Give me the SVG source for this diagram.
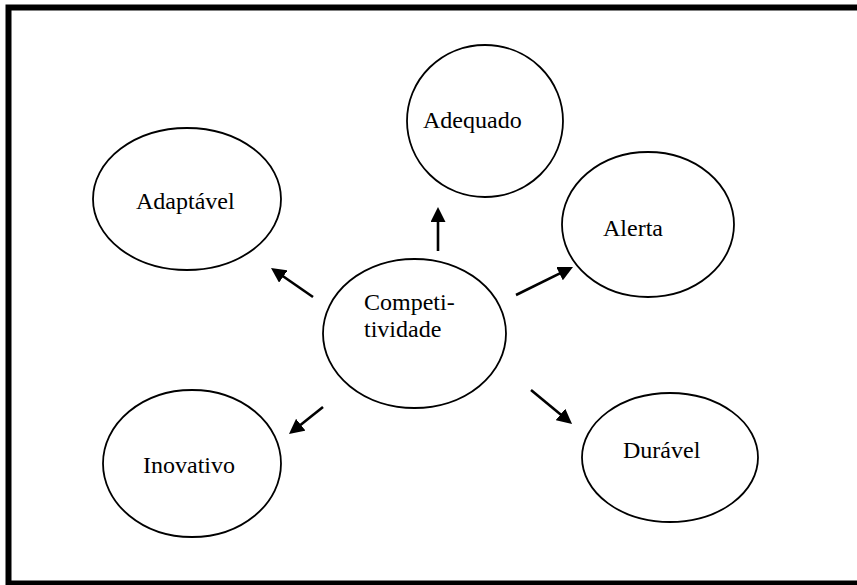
<svg xmlns="http://www.w3.org/2000/svg" width="857" height="585" viewBox="0 0 857 585">
  <style>
    .node ellipse { fill: #ffffff; stroke: #000000; stroke-width: 1.8; }
    .node text { font-family: "Liberation Serif", "Times New Roman", serif; font-size: 24px; fill: #000000; }
    .edges line { stroke: #000000; stroke-width: 2.6; marker-end: url(#arrow); }
  </style>
  <defs>
    <marker id="arrow" viewBox="0 0 15 15" refX="10" refY="7.5" markerWidth="15" markerHeight="15" markerUnits="userSpaceOnUse" orient="auto">
      <path d="M0,0 L15,7.5 L0,15 Z" fill="#000000"/>
    </marker>
  </defs>

  <rect x="0" y="0" width="857" height="585" fill="#ffffff"/>
  <!-- outer frame -->
  <rect x="8.5" y="7.5" width="860" height="576" fill="none" stroke="#000000" stroke-width="6"/>

  <g id="adequado" class="node">
    <ellipse cx="485" cy="121" rx="78" ry="76"/>
    <text x="423" y="128">Adequado</text>
  </g>
  <g id="adaptavel" class="node">
    <ellipse cx="187" cy="199" rx="94" ry="71"/>
    <text x="136" y="209">Adaptável</text>
  </g>
  <g id="alerta" class="node">
    <ellipse cx="648" cy="224.5" rx="86" ry="72.5"/>
    <text x="603" y="236">Alerta</text>
  </g>
  <g id="competitividade" class="node">
    <ellipse cx="414.5" cy="333.5" rx="91.5" ry="74.5"/>
    <text x="364" y="310">Competi-</text>
    <text x="364" y="337">tividade</text>
  </g>
  <g id="inovativo" class="node">
    <ellipse cx="192" cy="463.5" rx="89" ry="73.5"/>
    <text x="143" y="473">Inovativo</text>
  </g>
  <g id="duravel" class="node">
    <ellipse cx="670" cy="457.5" rx="88" ry="64.5"/>
    <text x="623" y="458">Durável</text>
  </g>

  <g id="connectors" class="edges">
    <line x1="438" y1="251" x2="438" y2="212"/>
    <line x1="313" y1="297" x2="275.1" y2="270.8"/>
    <line x1="516" y1="295" x2="568.5" y2="269.2"/>
    <line x1="323" y1="407" x2="292.9" y2="430.9"/>
    <line x1="531" y1="390" x2="568.2" y2="420.8"/>
  </g>
</svg>
